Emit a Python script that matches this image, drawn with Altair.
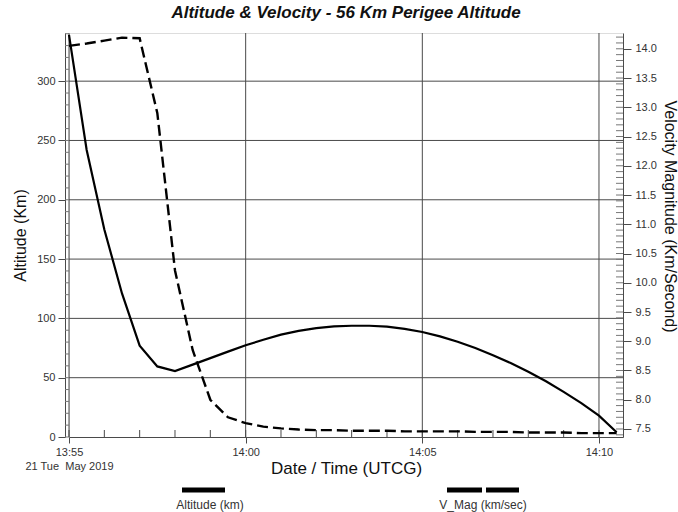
import altair as alt
import pandas as pd

# ---------------- data ----------------
chart_title = "Altitude & Velocity - 56 Km Perigee Altitude"

sample_times = ["13:55:00", "13:55:30", "13:56:00", "13:56:30", "13:57:00", "13:57:30",
                "13:58:00", "13:58:30", "13:59:00", "13:59:30", "14:00:00", "14:00:30",
                "14:01:00", "14:01:30", "14:02:00", "14:02:30", "14:03:00", "14:03:30",
                "14:04:00", "14:04:30", "14:05:00", "14:05:30", "14:06:00", "14:06:30",
                "14:07:00", "14:07:30", "14:08:00", "14:08:30", "14:09:00", "14:09:30",
                "14:10:00", "14:10:30"]

altitude_km = [339, 242, 175, 121, 77, 59.5,
               55.6, 61, 66.5, 72, 77.3, 82,
               86.3, 89.5, 91.8, 93.2, 93.8, 93.8,
               93.0, 91.2, 88.5, 84.8, 80.3, 75.0,
               69.0, 62.3, 55.0, 47.0, 38.0, 28.5,
               18.0, 4.0]

velocity_kms = [14.05, 14.09, 14.14, 14.19, 14.18, 12.90,
                10.21, 8.85, 8.00, 7.70, 7.60, 7.54,
                7.51, 7.49, 7.48, 7.48, 7.47, 7.47,
                7.47, 7.46, 7.46, 7.46, 7.46, 7.45,
                7.45, 7.45, 7.44, 7.44, 7.44, 7.43,
                7.43, 7.43]

x_tick_values = [0, 5, 10, 15]
x_tick_labels = ["13:55", "14:00", "14:05", "14:10"]
date_label = "21 Tue\u00a0 May 2019"
x_minor_ticks = list(range(0, 16))

alt_ticks = [0, 50, 100, 150, 200, 250, 300]
alt_minor_ticks = list(range(0, 341, 10))
vel_ticks = [7.5, 8.0, 8.5, 9.0, 9.5, 10.0, 10.5, 11.0, 11.5, 12.0, 12.5, 13.0, 13.5, 14.0]
vel_minor_ticks = [round(7.4 + 0.1 * i, 1) for i in range(69)]

legend_labels = ["Altitude (km)", "V_Mag (km/sec)"]

# ---------------- helpers ----------------
def minutes(t):
    h, m, s = (int(p) for p in t.split(":"))
    return (h * 60 + m - (13 * 60 + 55)) + s / 60.0

W, H = 554, 404
FONT = "Liberation Sans"
GRID = "#4a4a4a"
LBL = "#333333"

tmin = [minutes(t) for t in sample_times]
alt_df = pd.DataFrame({"t": tmin, "a": altitude_km})
vel_df = pd.DataFrame({"t": tmin, "v": velocity_kms})

label_expr = (
    f"datum.value == 0 ? ['{x_tick_labels[0]}', '{date_label}'] : "
    f"datum.value == 5 ? '{x_tick_labels[1]}' : "
    f"datum.value == 10 ? '{x_tick_labels[2]}' : '{x_tick_labels[3]}'"
)

x_axis = alt.Axis(
    values=x_tick_values, labelExpr=label_expr, grid=False,
    tickSize=6, tickColor=GRID, domainColor=GRID,
    labelFont=FONT, labelFontSize=11, labelColor=LBL, labelPadding=3,
    labelFlush=False, labelOverlap=False, labelBound=False, labelLineHeight=14,
    title="Date / Time (UTCG)", titleFont=FONT, titleFontSize=17,
    titleFontWeight="normal", titleColor="#111111", titleY=31, titleBaseline="middle",
)
x_scale = alt.Scale(domain=[0, 15.68], nice=False, zero=False)

def X():
    return alt.X("t:Q", scale=x_scale, axis=x_axis)

left_axis = alt.Axis(
    values=alt_ticks, orient="left", offset=4, grid=False,
    tickSize=7, tickColor=GRID, domainColor=GRID,
    labelFont=FONT, labelFontSize=11, labelColor=LBL, labelPadding=3,
    title="Altitude (Km)", titleFont=FONT, titleFontSize=16,
    titleFontWeight="normal", titleColor="#111111", titlePadding=8,
)
left_scale = alt.Scale(domain=[0, 340.6], nice=False, zero=False)
YA = alt.Y("a:Q", scale=left_scale, axis=left_axis)

right_axis = alt.Axis(
    values=vel_ticks, format=".1f", orient="right", grid=False,
    tickSize=8, tickColor=GRID, domainColor=GRID,
    labelFont=FONT, labelFontSize=11, labelColor=LBL, labelPadding=4,
    title="Velocity Magnitude (Km/Second)", titleFont=FONT, titleFontSize=16,
    titleFontWeight="normal", titleColor="#111111", titlePadding=5, titleY=183,
)
right_scale = alt.Scale(domain=[7.363, 14.27], nice=False, zero=False)
YV = alt.Y("v:Q", scale=right_scale, axis=right_axis)

# ---------------- left group ----------------
vgrid = alt.Chart(pd.DataFrame({"t": x_tick_values})).mark_rule(
    color=GRID, strokeWidth=1).encode(x=X(), y=alt.value(0), y2=alt.value(H))

hgrid = alt.Chart(pd.DataFrame({"a": alt_ticks[1:]})).mark_rule(
    color=GRID, strokeWidth=1).encode(y=YA, x=alt.value(0), x2=alt.value(W))

left_minor = alt.Chart(pd.DataFrame({"a": alt_minor_ticks})).mark_rule(
    color="#777777", strokeWidth=1).encode(y=YA, x=alt.value(-4), x2=alt.value(0))

x_minor = alt.Chart(pd.DataFrame({"t": x_minor_ticks})).mark_rule(
    color=GRID, strokeWidth=1).encode(x=X(), y=alt.value(H - 7), y2=alt.value(H))

alt_line = alt.Chart(alt_df).mark_line(
    color="#000000", strokeWidth=2.2, interpolate="linear").encode(x=X(), y=YA)

one = pd.DataFrame({"k": [0]})
leg_alt_bar = alt.Chart(one).mark_rule(color="#000000", strokeWidth=5, strokeCap="butt").encode(
    x=alt.value(113), x2=alt.value(156), y=alt.value(457))
leg_alt_txt = alt.Chart(one).mark_text(
    font=FONT, fontSize=12, color=LBL, align="center", baseline="middle",
    text=legend_labels[0]).encode(x=alt.value(141), y=alt.value(472))

left_group = alt.layer(vgrid, hgrid, left_minor, x_minor, alt_line,
                       leg_alt_bar, leg_alt_txt)

# ---------------- right group ----------------
right_minor = alt.Chart(pd.DataFrame({"v": vel_minor_ticks})).mark_rule(
    color="#777777", strokeWidth=1).encode(y=YV, x=alt.value(W - 7), x2=alt.value(W))

vel_line = alt.Chart(vel_df).mark_line(
    color="#000000", strokeWidth=2.4, strokeDash=[11, 5], interpolate="linear"
).encode(x=X(), y=YV)

leg_v_bar1 = alt.Chart(one).mark_rule(color="#000000", strokeWidth=5, strokeCap="butt").encode(
    x=alt.value(378), x2=alt.value(413), y=alt.value(457))
leg_v_bar2 = alt.Chart(one).mark_rule(color="#000000", strokeWidth=5, strokeCap="butt").encode(
    x=alt.value(417), x2=alt.value(450), y=alt.value(457))
leg_v_txt = alt.Chart(one).mark_text(
    font=FONT, fontSize=12, color=LBL, align="center", baseline="middle",
    text=legend_labels[1]).encode(x=alt.value(414), y=alt.value(472))

right_group = alt.layer(right_minor, vel_line, leg_v_bar1, leg_v_bar2, leg_v_txt)

chart = alt.layer(left_group, right_group).resolve_scale(y="independent").properties(
    width=W, height=H,
    padding={"left": 69, "top": 33, "right": 55, "bottom": 75},
    autosize=alt.AutoSizeParams(type="none"),
    title=alt.TitleParams(
        chart_title, font=FONT, fontSize=17, fontStyle="italic", fontWeight="bold",
        color="#111111", offset=8, anchor="middle"),
).configure_view(stroke="#c4c4c4", strokeWidth=1).configure(background="white")

chart.save("out.html", embed_options={"renderer": "svg", "actions": False})
